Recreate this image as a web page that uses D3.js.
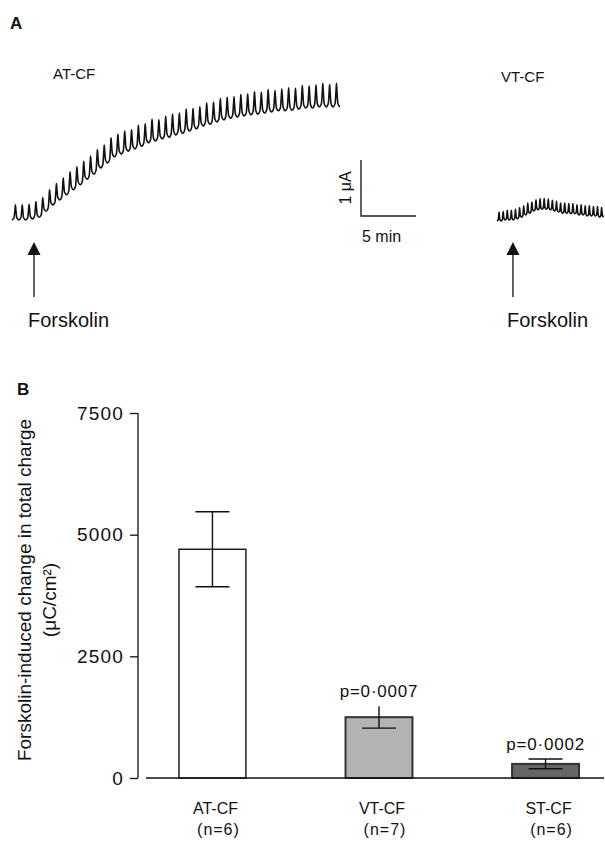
<!DOCTYPE html>
<html>
<head>
<meta charset="utf-8">
<script src="https://cdn.jsdelivr.net/npm/d3@7/dist/d3.min.js"></script>
<style>
  html, body { margin: 0; padding: 0; background: #fff; }
  svg { display: block; }
  text { font-family: "Liberation Sans", Arial, sans-serif; fill: #111; }
</style>
</head>
<body>
<svg id="chart" width="605" height="844"></svg>
<script>
// ---------------- DATA ----------------
// Panel A: Ussing chamber current traces (µA, relative to pre-forskolin baseline)
const atTrough = [0, 0, 0, 0.02, 0.05, 0.16, 0.27, 0.36, 0.45, 0.54, 0.63, 0.73, 0.82, 0.93, 1.02, 1.13,
  1.18, 1.23, 1.27, 1.32, 1.38, 1.41, 1.45, 1.48, 1.52, 1.55, 1.59, 1.63, 1.68, 1.71, 1.75, 1.79, 1.82,
  1.84, 1.86, 1.88, 1.89, 1.91, 1.93, 1.95, 1.95, 1.96, 1.98, 2.0, 2.0, 2.02, 2.02, 2.02, 2.02];
const atPeak = [0.27, 0.27, 0.28, 0.33, 0.40, 0.54, 0.65, 0.75, 0.86, 0.95, 1.05, 1.14, 1.26, 1.34, 1.47,
  1.53, 1.59, 1.61, 1.69, 1.72, 1.80, 1.79, 1.85, 1.89, 1.91, 1.98, 1.99, 2.02, 2.09, 2.10, 2.17, 2.19,
  2.20, 2.24, 2.25, 2.29, 2.28, 2.33, 2.31, 2.34, 2.36, 2.35, 2.40, 2.39, 2.41, 2.44, 2.42, 2.44];
const vtTrough = [0, 0, 0.02, 0.02, 0.02, 0.04, 0.07, 0.11, 0.14, 0.18, 0.20, 0.21, 0.21, 0.20, 0.18,
  0.16, 0.14, 0.14, 0.13, 0.13, 0.11, 0.11, 0.09, 0.09, 0.09, 0.07, 0.07];
const vtPeak = [0.16, 0.17, 0.19, 0.19, 0.21, 0.24, 0.27, 0.32, 0.34, 0.38, 0.40, 0.40, 0.39, 0.37, 0.35,
  0.32, 0.32, 0.31, 0.31, 0.29, 0.29, 0.27, 0.27, 0.26, 0.26, 0.24];
const atPeriodMin = 0.621;   // minutes per pulse cycle
const vtPeriodMin = 0.373;
const forskolinTimeMin = { at: 2.0, vt: 1.45 };
const traceLabels = ["AT-CF", "VT-CF"];

// Panel B: forskolin-induced change in total charge
const categories = ["AT-CF", "VT-CF", "ST-CF"];
const nLabels = ["(n=6)", "(n=7)", "(n=6)"];
const means = [4700, 1250, 290];
const sems = [770, 225, 100];
const pValues = [null, "p=0·0007", "p=0·0002"];
const yTicks = [0, 2500, 5000, 7500];

// ---------------- DRAW ----------------
const svg = d3.select("#chart");

// Panel letters
svg.append("text").attr("x", 10).attr("y", 29).attr("font-size", 17).attr("font-weight", "bold").text("A");
svg.append("text").attr("x", 17).attr("y", 395).attr("font-size", 17).attr("font-weight", "bold").text("B");

// ----- Panel A -----
const xA = d3.scaleLinear().domain([0, 5]).range([0, 55]);     // 5 min = 55 px
const yA = d3.scaleLinear().domain([0, 1]).range([0, -56]);    // 1 µA = 56 px

function tracePoints(troughs, peaks, period) {
  const pts = [];
  const h = period / 2;
  for (let j = 0; j < peaks.length; j++) {
    const t0 = j * period, ts = t0 + h, t1 = t0 + period;
    const a = troughs[j], b = troughs[j + 1], p = peaks[j];
    pts.push([t0, a]);
    pts.push([t0 + 0.6 * h, a + 0.15 * (p - a)]);
    pts.push([ts - 0.12 * h, a + 0.72 * (p - a)]);
    pts.push([ts, p]);
    pts.push([ts + 0.12 * h, b + 0.72 * (p - b)]);
    pts.push([t1 - 0.6 * h, b + 0.15 * (p - b)]);
  }
  pts.push([peaks.length * period, troughs[troughs.length - 1]]);
  return pts;
}
const traceLine = d3.line().x(d => xA(d[0])).y(d => yA(d[1])).curve(d3.curveMonotoneX);

function drawTrace(g, troughs, peaks, period) {
  g.append("path").datum(tracePoints(troughs, peaks, period))
    .attr("d", traceLine).attr("fill", "none").attr("stroke", "#111")
    .attr("stroke-width", 1.6).attr("stroke-linejoin", "round");
}
function drawArrow(g, t) {
  const x = xA(t);
  g.append("line").attr("x1", x).attr("x2", x).attr("y1", 77).attr("y2", 30)
    .attr("stroke", "#111").attr("stroke-width", 1.3);
  g.append("path").attr("d", `M${x},22 L${x - 6.5},35 L${x + 6.5},35 Z`).attr("fill", "#111");
  g.append("text").attr("x", x - 6).attr("y", 107).attr("font-size", 20).text("Forskolin");
}

const gAT = svg.append("g").attr("transform", "translate(12,220)");
drawTrace(gAT, atTrough, atPeak, atPeriodMin);
const gATa = svg.append("g").attr("transform", "translate(12,220)");
drawArrow(gATa, forskolinTimeMin.at);
svg.append("text").attr("x", 53).attr("y", 79).attr("font-size", 15).text(traceLabels[0]);

const gVT = svg.append("g").attr("transform", "translate(497,221)");
drawTrace(gVT, vtTrough, vtPeak, vtPeriodMin);
const gVTa = svg.append("g").attr("transform", "translate(497,220)");
drawArrow(gVTa, forskolinTimeMin.vt);
svg.append("text").attr("x", 501).attr("y", 82).attr("font-size", 15).text(traceLabels[1]);

// Scale bar
const sb = svg.append("g").attr("transform", "translate(361,216)");
sb.append("path").attr("d", `M0,${yA(1)} V0 H${xA(5)}`).attr("fill", "none")
  .attr("stroke", "#222").attr("stroke-width", 1.4);
sb.append("text").attr("transform", `translate(-10,${yA(0.5)}) rotate(-90)`)
  .attr("text-anchor", "middle").attr("font-size", 16).text("1 μA");
sb.append("text").attr("x", 1).attr("y", 26).attr("font-size", 16).text("5 min");

// ----- Panel B -----
const y = d3.scaleLinear().domain([0, 7500]).range([778, 413]);
const x = d3.scaleBand().domain(categories).range([146, 612]).paddingInner(0.598).paddingOuter(0.198);
const fills = ["#ffffff", "#b3b3b3", "#666666"];
const strokes = ["#111", "#333", "#333"];

const yAxis = svg.append("g").attr("transform", "translate(138,0)")
  .call(d3.axisLeft(y).tickValues(yTicks).tickSize(8).tickPadding(6).tickFormat(d3.format("d")));
yAxis.select(".domain").attr("stroke", "#111").attr("stroke-width", 1.3).attr("d", `M0,${y(7500)}V${y(0)}`);
yAxis.selectAll(".tick line").attr("stroke", "#111").attr("stroke-width", 1.3);
yAxis.selectAll(".tick text").attr("font-size", 19).attr("letter-spacing", 1.2)
  .attr("font-family", "'Liberation Sans', Arial, sans-serif").attr("fill", "#111");

// Y title
svg.append("text").attr("transform", `translate(31,590) rotate(-90)`).attr("text-anchor", "middle")
  .attr("font-size", 19).text("Forskolin-induced change in total charge");
svg.append("text").attr("transform", `translate(56,600) rotate(-90)`).attr("text-anchor", "middle")
  .attr("font-size", 19).text("(μC/cm²)");

// Bars
const bars = svg.append("g");
categories.forEach((c, i) => {
  const bx = x(c), bw = x.bandwidth(), cx = bx + bw / 2;
  bars.append("rect").attr("x", bx).attr("y", y(means[i])).attr("width", bw)
    .attr("height", y(0) - y(means[i])).attr("fill", fills[i])
    .attr("stroke", strokes[i]).attr("stroke-width", i === 0 ? 1.4 : 2);
  const hi = y(means[i] + sems[i]), lo = y(means[i] - sems[i]);
  bars.append("line").attr("x1", cx).attr("x2", cx).attr("y1", hi).attr("y2", lo)
    .attr("stroke", "#111").attr("stroke-width", 1.4);
  bars.append("line").attr("x1", cx - 17).attr("x2", cx + 17).attr("y1", lo).attr("y2", lo)
    .attr("stroke", "#111").attr("stroke-width", 1.4);
  if (c !== "VT-CF") {
    bars.append("line").attr("x1", cx - 17).attr("x2", cx + 17).attr("y1", hi).attr("y2", hi)
      .attr("stroke", "#111").attr("stroke-width", 1.4);
  }
  if (pValues[i]) {
    bars.append("text").attr("x", cx).attr("y", hi - 9).attr("text-anchor", "middle")
      .attr("font-size", 17).attr("letter-spacing", 0.8).text(pValues[i]);
  }
  bars.append("text").attr("x", cx + 3).attr("y", 814).attr("text-anchor", "middle")
    .attr("font-size", 16).text(c);
  bars.append("text").attr("x", cx + 6).attr("y", 835).attr("text-anchor", "middle")
    .attr("font-size", 16).attr("letter-spacing", 1).text(nLabels[i]);
});

// X baseline
svg.append("line").attr("x1", 146).attr("x2", 604).attr("y1", y(0)).attr("y2", y(0))
  .attr("stroke", "#111").attr("stroke-width", 1.4);
</script>
</body>
</html>
